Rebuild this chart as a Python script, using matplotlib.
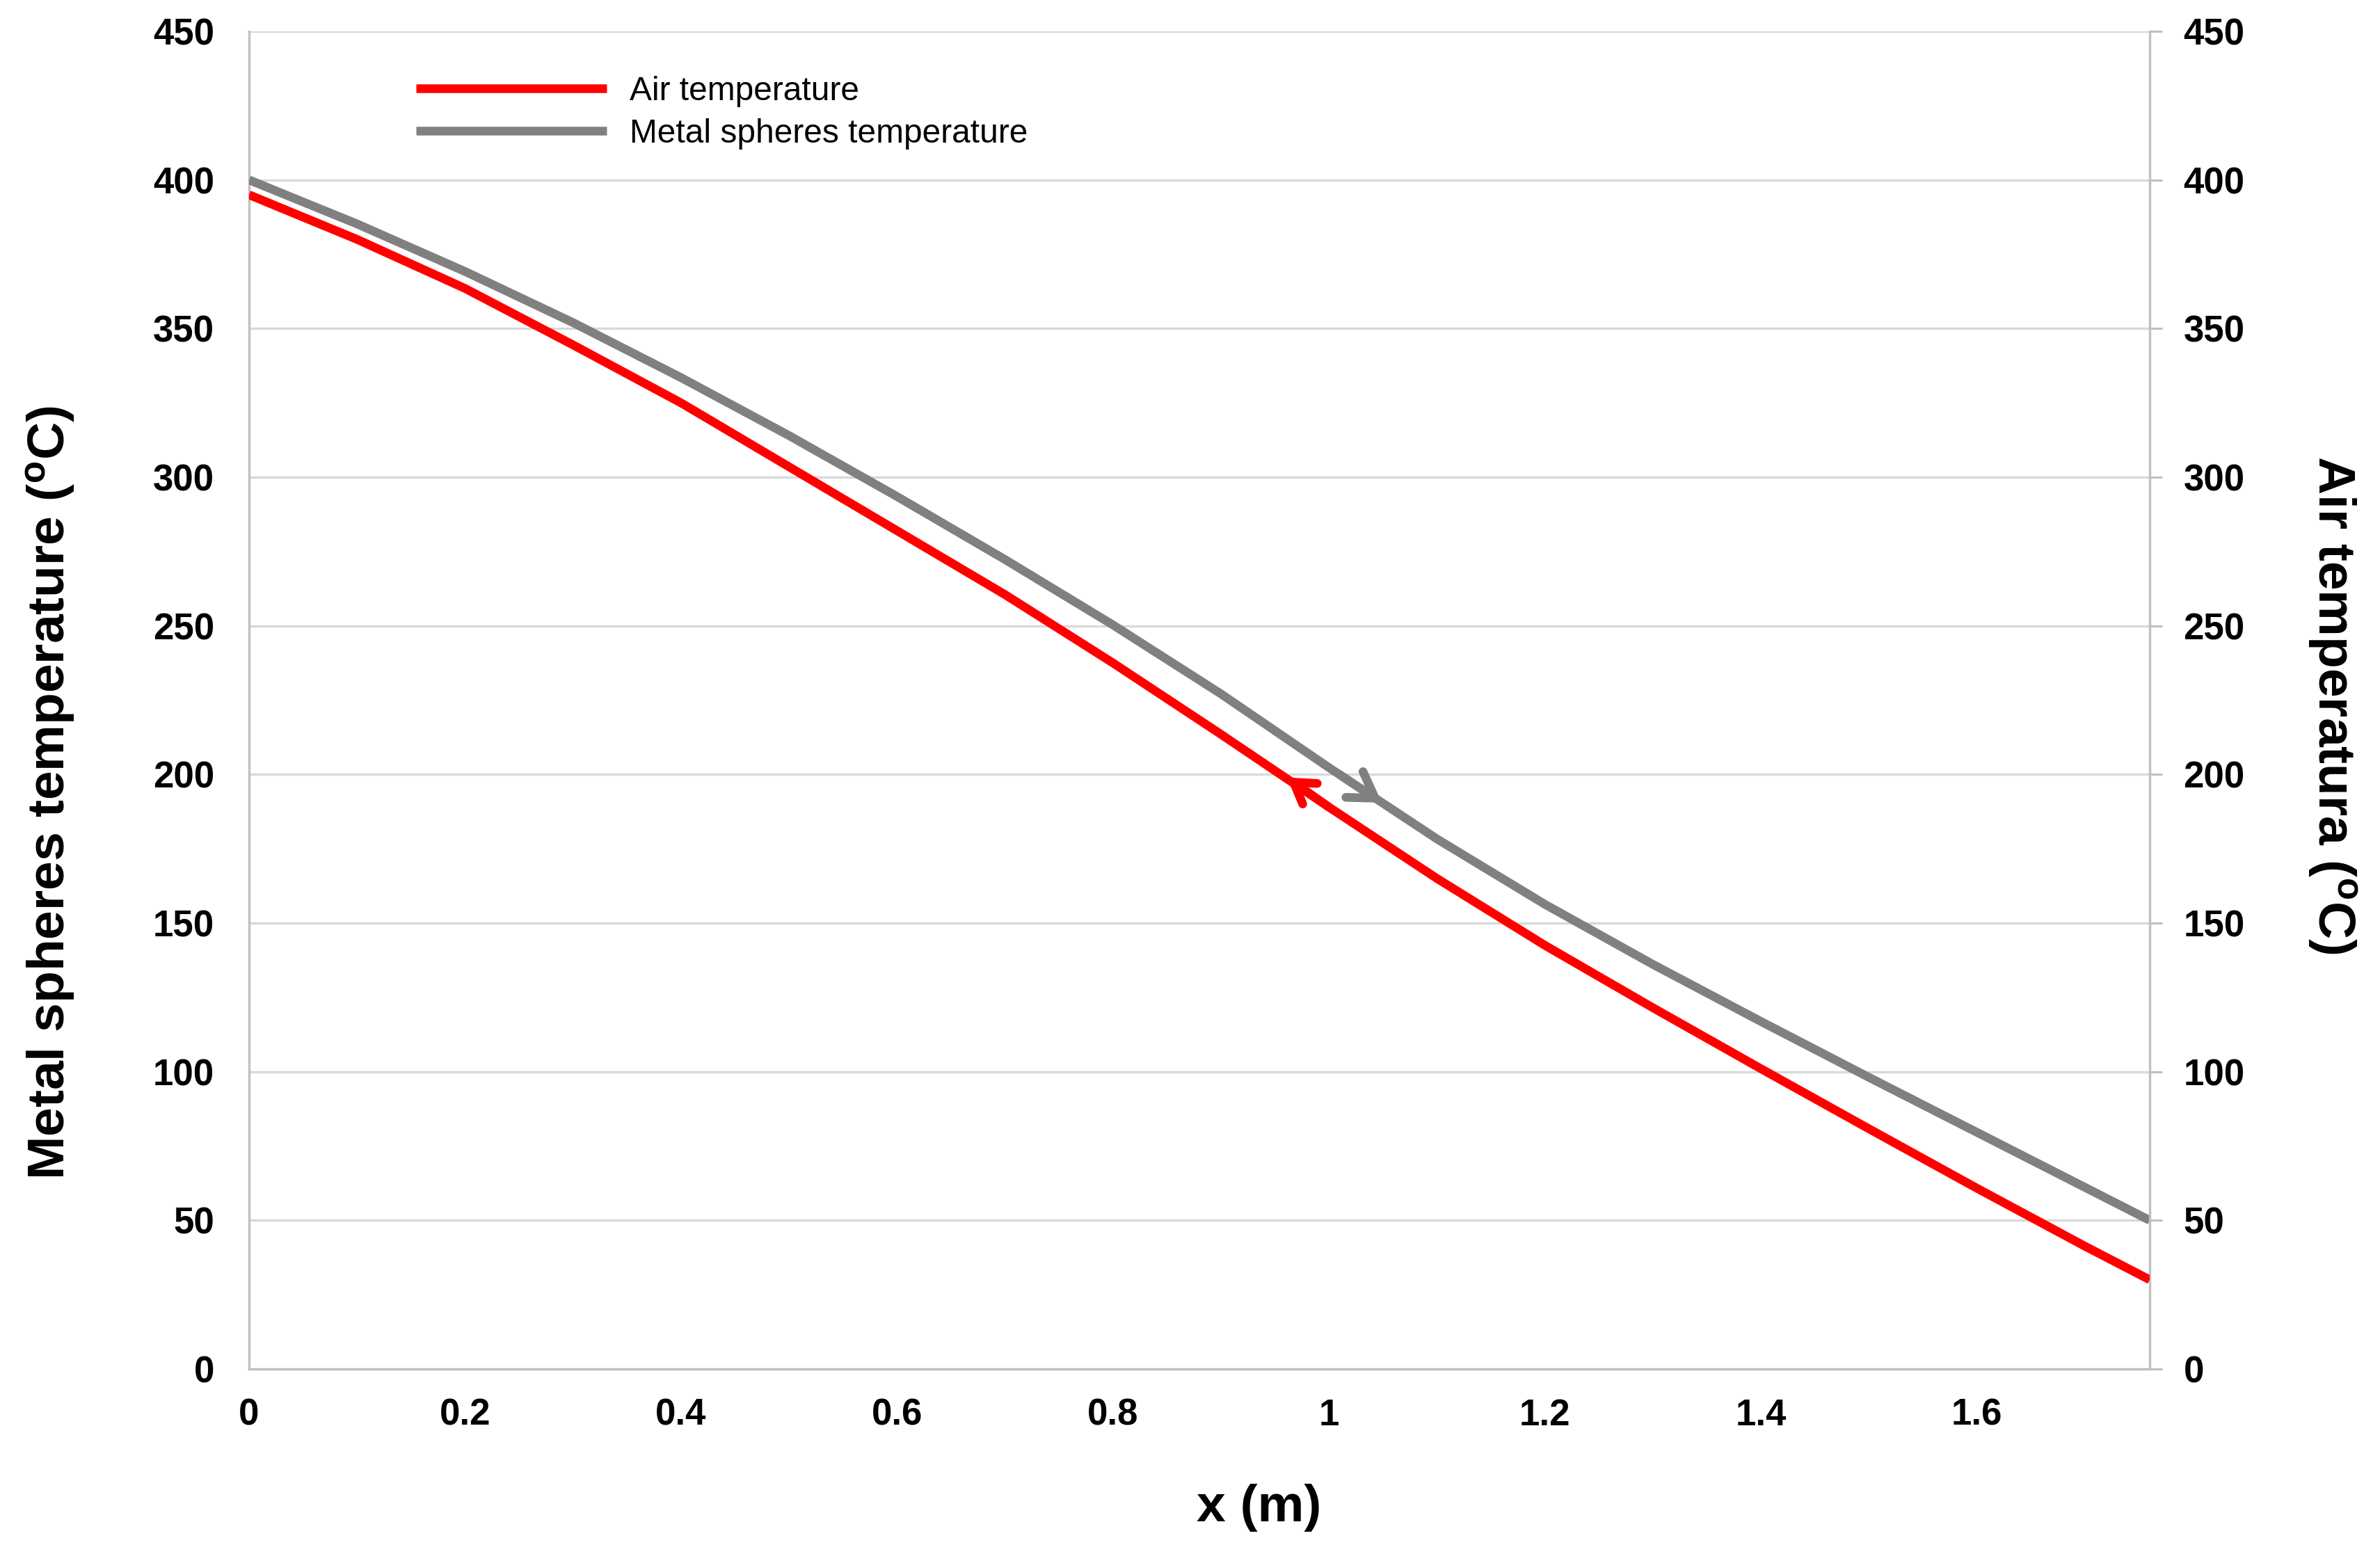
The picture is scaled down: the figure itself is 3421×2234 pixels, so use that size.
import matplotlib
matplotlib.use('Agg')
import matplotlib.pyplot as plt
from matplotlib.ticker import FixedLocator, FuncFormatter

# ---- data ----
x_pos = [0.0, 0.1, 0.2, 0.3, 0.4, 0.5, 0.6, 0.7, 0.8, 0.9, 1.0, 1.1, 1.2, 1.3, 1.4, 1.5, 1.6, 1.7, 1.76]
air_t = [395, 380, 363.5, 344.5, 325, 303.5, 282, 260.5, 237.5, 213.5, 189, 165, 142.5, 121.5, 101, 80.8, 60.8, 41.3, 30]
metal_t = [400, 385.2, 369.2, 352, 333.5, 314, 293.5, 272.3, 250.3, 227.1, 202.3, 178.3, 156.3, 136.1, 116.9, 98.1, 79.6, 61.1, 50]

x_ticks = [0, 0.2, 0.4, 0.6, 0.8, 1.0, 1.2, 1.4, 1.6]
y_ticks = [0, 50, 100, 150, 200, 250, 300, 350, 400, 450]

series_labels = ["Air temperature", "Metal spheres temperature"]
left_label = r"Metal spheres temperature ($^{\mathbf{o}}$C)"
right_label = r"Air temperatura ($^{\mathbf{o}}$C)"
x_label = "x (m)"

# arrow annotations (tip, tail) in data coords
air_arrow = ((0.961, 199.0), (1.00, 189.0))
metal_arrow = ((1.049, 190.5), (1.01, 199.9))

RED = "#FF0000"
GRAY = "#808080"
SPINE = "#BFBFBF"
GRID = "#D9D9D9"

plt.rcParams['font.family'] = ['Liberation Sans', 'DejaVu Sans']
plt.rcParams['font.weight'] = 'bold'
plt.rcParams['mathtext.fontset'] = 'custom'
plt.rcParams['mathtext.rm'] = 'Liberation Sans'
plt.rcParams['mathtext.bf'] = 'Liberation Sans:bold'
plt.rcParams['mathtext.it'] = 'Liberation Sans:italic'

W, H = 3421, 2234
fig = plt.figure(figsize=(W / 100, H / 100), dpi=100)
L, R, T, B = 358, 3090, 45, 1968
ax = fig.add_axes([L / W, 1 - B / H, (R - L) / W, (B - T) / H])
ax2 = ax.twinx()

for a in (ax, ax2):
    a.set_xlim(0, 1.76)
    a.set_ylim(0, 450)
    a.yaxis.set_major_locator(FixedLocator(y_ticks))
    for s in a.spines.values():
        s.set_color(SPINE)
        s.set_linewidth(2.4)
    a.spines['top'].set_visible(False)

ax.spines['right'].set_visible(False)
ax2.spines['left'].set_visible(False)
ax2.spines['bottom'].set_visible(False)

ax.xaxis.set_major_locator(FixedLocator(x_ticks))
ax.xaxis.set_major_formatter(FuncFormatter(lambda v, p: f"{v:g}"))
ax.grid(axis='y', color=GRID, linewidth=2.4)
ax.set_axisbelow(True)

ax.tick_params(axis='y', length=0, pad=36, labelsize=38)
ax.tick_params(axis='x', length=0, pad=30, labelsize=38)
ax2.tick_params(axis='y', length=13, width=2.2, color=SPINE, pad=22, labelsize=38)

LW = 9
l_metal, = ax.plot(x_pos, metal_t, color=GRAY, linewidth=LW, solid_capstyle='butt',
                   solid_joinstyle='round', zorder=3)
l_air, = ax2.plot(x_pos, air_t, color=RED, linewidth=LW, solid_capstyle='butt',
                  solid_joinstyle='round', zorder=3)

ax2.annotate('', xy=air_arrow[0], xytext=air_arrow[1],
             arrowprops=dict(arrowstyle='->,head_length=0.4,head_width=0.25', color=RED,
                             lw=LW, mutation_scale=52, shrinkA=0, shrinkB=0))
ax2.annotate('', xy=metal_arrow[0], xytext=metal_arrow[1],
             arrowprops=dict(arrowstyle='->,head_length=0.4,head_width=0.25', color=GRAY,
                             lw=LW, mutation_scale=64, shrinkA=0, shrinkB=0))

ax2.legend([l_air, l_metal], series_labels, loc='upper left',
           bbox_to_anchor=((598 - L) / (R - L), (B - 109) / (B - T)),
           frameon=False, borderpad=0, borderaxespad=0,
           handlelength=5.72, handletextpad=0.69, labelspacing=0.33,
           prop={'family': 'Liberation Sans', 'size': 34.5, 'weight': 'normal'})

fig.text(73 / W, 1 - 1140 / H, left_label, rotation=90, ha='center', va='center',
         fontsize=54, fontweight='bold')
fig.text(3352 / W, 1 - 1013 / H, right_label, rotation=270, ha='center', va='center',
         fontsize=54, fontweight='bold')
fig.text(1810 / W, 1 - 2168 / H, x_label, ha='center', va='center',
         fontsize=54, fontweight='bold')

fig.savefig('out.png', dpi=100, facecolor='white')
